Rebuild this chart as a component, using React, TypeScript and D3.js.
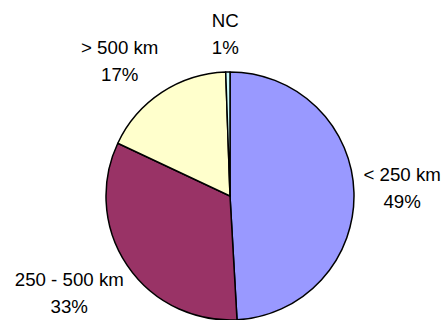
import React from "react";
import * as d3 from "d3";

// Distance classes and their shares
const categories: string[] = ["< 250 km", "250 - 500 km", "> 500 km", "NC"];
const shares: number[] = [49.1, 32.9, 17.45, 0.55];
const colors: string[] = ["#9999FF", "#993366", "#FFFFCC", "#CCFFFF"];

const WIDTH = 443;
const HEIGHT = 320;
const CX = 230;
const CY = 196;
const R = 124;
const FONT_SIZE = 18.7;
const FONT = "Arial, 'Liberation Sans', sans-serif";
const LINE_GAP = 27;
const CAP = FONT_SIZE * 0.716;
const LABEL_GAP = 11;

// Small hand adjustments of the outside labels (layout only)
const labelNudge: Record<string, [number, number]> = {
  "< 250 km": [-2, -3],
  "250 - 500 km": [-2, -10],
  "> 500 km": [-15, 9],
  NC: [-2, -6.5],
};

function measure(text: string): number {
  const canvas = document.createElement("canvas");
  const ctx = canvas.getContext("2d");
  if (!ctx) return text.length * FONT_SIZE * 0.55;
  ctx.font = `${FONT_SIZE}px Arial, 'Liberation Sans', sans-serif`;
  return ctx.measureText(text).width;
}

export default function App() {
  const total = d3.sum(shares);
  const pie = d3
    .pie<number>()
    .sort(null)
    .value((d) => d)
    .startAngle(0)
    .endAngle(2 * Math.PI);
  const arcs = pie(shares);
  const arc = d3.arc<d3.PieArcDatum<number>>().innerRadius(0).outerRadius(R);

  return (
    <svg
      width={WIDTH}
      height={HEIGHT}
      style={{ position: "absolute", left: 0, top: 0, background: "#fff" }}
    >
      <g transform={`translate(${CX},${CY})`}>
        {arcs.map((a, i) => (
          <path
            key={categories[i]}
            d={arc(a) || ""}
            fill={colors[i]}
            stroke="#000"
            strokeWidth={1.5}
            strokeLinejoin="round"
          />
        ))}
        {arcs.map((a, i) => {
          const mid = (a.startAngle + a.endAngle) / 2;
          const ux = Math.sin(mid);
          const uy = -Math.cos(mid);
          const pct = `${Math.round((shares[i] / total) * 100)}%`;
          const w = Math.max(measure(categories[i]), measure(pct));
          const h = CAP + LINE_GAP;
          const dist = R + LABEL_GAP + Math.abs(ux) * (w / 2) + Math.abs(uy) * (h / 2);
          const [nx, ny] = labelNudge[categories[i]] || [0, 0];
          const lx = ux * dist + nx;
          const ly = uy * dist + ny;
          const base1 = ly - h / 2 + CAP;
          return (
            <text
              key={`lbl-${categories[i]}`}
              x={lx}
              y={base1}
              textAnchor="middle"
              fontFamily={FONT}
              fontSize={FONT_SIZE}
              fill="#000"
            >
              <tspan x={lx} y={base1}>
                {categories[i]}
              </tspan>
              <tspan x={lx} y={base1 + LINE_GAP}>
                {pct}
              </tspan>
            </text>
          );
        })}
      </g>
    </svg>
  );
}
